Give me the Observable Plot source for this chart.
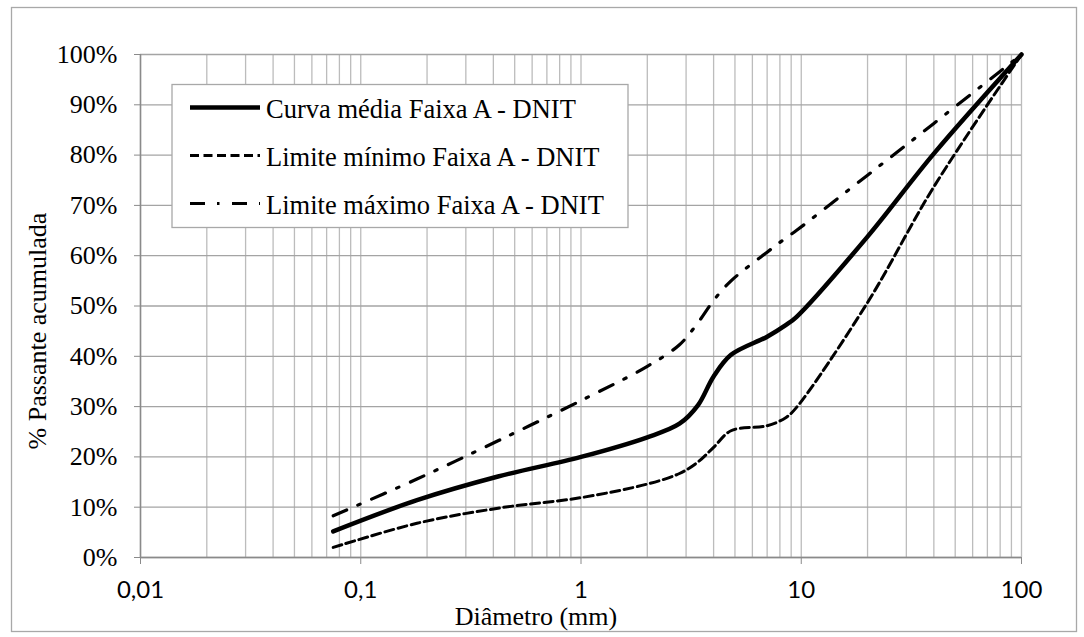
<!DOCTYPE html>
<html>
<head>
<meta charset="utf-8">
<script src="https://cdn.jsdelivr.net/npm/d3@7"></script>
<script src="https://cdn.jsdelivr.net/npm/@observablehq/plot@0.6"></script>
<style>
  body { margin: 0; background: #fff; }
  #chart { position: relative; width: 1084px; height: 637px; }
  #chart svg { display: block; background: #fff; }
</style>
</head>
<body>
<div id="chart"></div>
<script>
// Abertura das peneiras (mm) e % passante acumulada de cada curva
const diametros     = [0.075, 0.18, 0.42, 1, 2, 2.8, 3.4, 4, 4.8, 7, 8.5, 9.5, 20, 40, 100];
const curvaMedia    = [5.2, 11.4, 16.1, 20.0, 23.9, 26.6, 30.3, 36.0, 40.3, 43.9, 46.2, 47.8, 63.8, 80.3, 100];
const limiteMinimo  = [2.0, 6.8, 9.8, 11.9, 14.6, 16.7, 19.0, 21.9, 25.2, 26.2, 27.8, 29.8, 50.7, 73.7, 100];
const limiteMaximo  = [8.3, 15.6, 23.2, 31.2, 38.0, 42.3, 46.7, 51.1, 55.0, 60.7, 63.5, 65.0, 76.0, 86.3, 100];

const nomesSeries = [
  "Curva média Faixa A - DNIT",
  "Limite mínimo Faixa A - DNIT",
  "Limite máximo Faixa A - DNIT"
];

const xTicks = [0.01, 0.1, 1, 10, 100];
const xTickLabels = ["0,01", "0,1", "1", "10", "100"];
const yTicks = [0, 10, 20, 30, 40, 50, 60, 70, 80, 90, 100];
const yTickLabels = ["0%", "10%", "20%", "30%", "40%", "50%", "60%", "70%", "80%", "90%", "100%"];

// Estilo de traço de cada série
const estilos = [
  { strokeWidth: 4.5, strokeDasharray: null },
  { strokeWidth: 3, strokeDasharray: "9,4.5" },
  { strokeWidth: 3.2, strokeDasharray: "15,12,2.5,12.5" }
];

const valores = [curvaMedia, limiteMinimo, limiteMaximo];
const tabela = valores.flatMap((serie, k) =>
  serie.map((p, i) => ({ d: diametros[i], p, serie: nomesSeries[k] })));

// Linhas de grade verticais nas subdivisões logarítmicas
const gradeX = d3.scaleLog().domain([0.01, 100]).ticks();

const serif = "'Liberation Serif', 'Times New Roman', serif";
const sans = "Lato, 'Open Sans', sans-serif";

const chart = Plot.plot({
  width: 1084,
  height: 637,
  marginLeft: 140,
  marginRight: 63,
  marginTop: 54,
  marginBottom: 80,
  x: { type: "log", domain: [0.01, 100] },
  y: { domain: [0, 100] },
  marks: [
    Plot.ruleX(gradeX, { stroke: "#bcbcbc", strokeWidth: 1.3 }),
    Plot.ruleY(yTicks, { stroke: "#a4a4a4", strokeWidth: 1.3 }),
    Plot.ruleX([0.01], { stroke: "#8a8a8a", strokeWidth: 1.5 }),
    Plot.ruleY([0], { stroke: "#8a8a8a", strokeWidth: 1.5 }),
    Plot.axisX(xTicks, {
      tickSize: 7, tickPadding: 16,
      tickFormat: d => xTickLabels[xTicks.indexOf(d)],
      stroke: "#8a8a8a", label: null, fontSize: 24
    }),
    Plot.axisY(yTicks, {
      tickSize: 6, tickPadding: 17,
      tickFormat: d => yTickLabels[yTicks.indexOf(d)],
      stroke: "#8a8a8a", label: null, fontSize: 26
    }),
    ...nomesSeries.map((nome, k) =>
      Plot.line(tabela.filter(r => r.serie === nome), {
        x: "d", y: "p",
        curve: "catmull-rom",
        stroke: "black",
        strokeWidth: estilos[k].strokeWidth,
        strokeDasharray: estilos[k].strokeDasharray,
        strokeLinejoin: "round"
      }))
  ]
});

document.getElementById("chart").appendChild(chart);

const svg = d3.select(chart);
svg.selectAll('[aria-label="x-axis tick label"] text, [aria-label="x-axis tick label"]')
  .attr("fill", "black").style("font-family", sans).style("font-size", "24px");
svg.selectAll('[aria-label="y-axis tick label"] text, [aria-label="y-axis tick label"]')
  .attr("fill", "black").style("font-family", serif).style("font-size", "26px");

// Moldura externa da área do gráfico
svg.insert("rect", ":first-child")
  .attr("x", 11.5).attr("y", 7.5).attr("width", 1065).attr("height", 624)
  .attr("fill", "white").attr("stroke", "#a8a8a8").attr("stroke-width", 1.3);

// Títulos dos eixos
svg.append("text")
  .attr("x", 536).attr("y", 625)
  .attr("text-anchor", "middle")
  .style("font-family", serif).style("font-size", "26px")
  .text("Diâmetro (mm)");

svg.append("text")
  .attr("transform", "translate(46,331) rotate(-90)")
  .attr("text-anchor", "middle")
  .style("font-family", serif).style("font-size", "26px")
  .text("% Passante acumulada");

// Legenda
const leg = svg.append("g");
leg.append("rect")
  .attr("x", 172).attr("y", 84.5).attr("width", 456).attr("height", 143)
  .attr("fill", "white").attr("stroke", "#a8a8a8").attr("stroke-width", 1.3);
const linhasY = [107.5, 155.5, 203.5];
nomesSeries.forEach((nome, k) => {
  leg.append("line")
    .attr("x1", 190).attr("x2", 260)
    .attr("y1", linhasY[k]).attr("y2", linhasY[k])
    .attr("stroke", "black")
    .attr("stroke-width", estilos[k].strokeWidth)
    .attr("stroke-dasharray", estilos[k].strokeDasharray);
  leg.append("text")
    .attr("x", 266).attr("y", linhasY[k] + 10)
    .attr("text-anchor", "start")
    .style("font-family", serif).style("font-size", "26.5px")
    .text(nome);
});
</script>
</body>
</html>
